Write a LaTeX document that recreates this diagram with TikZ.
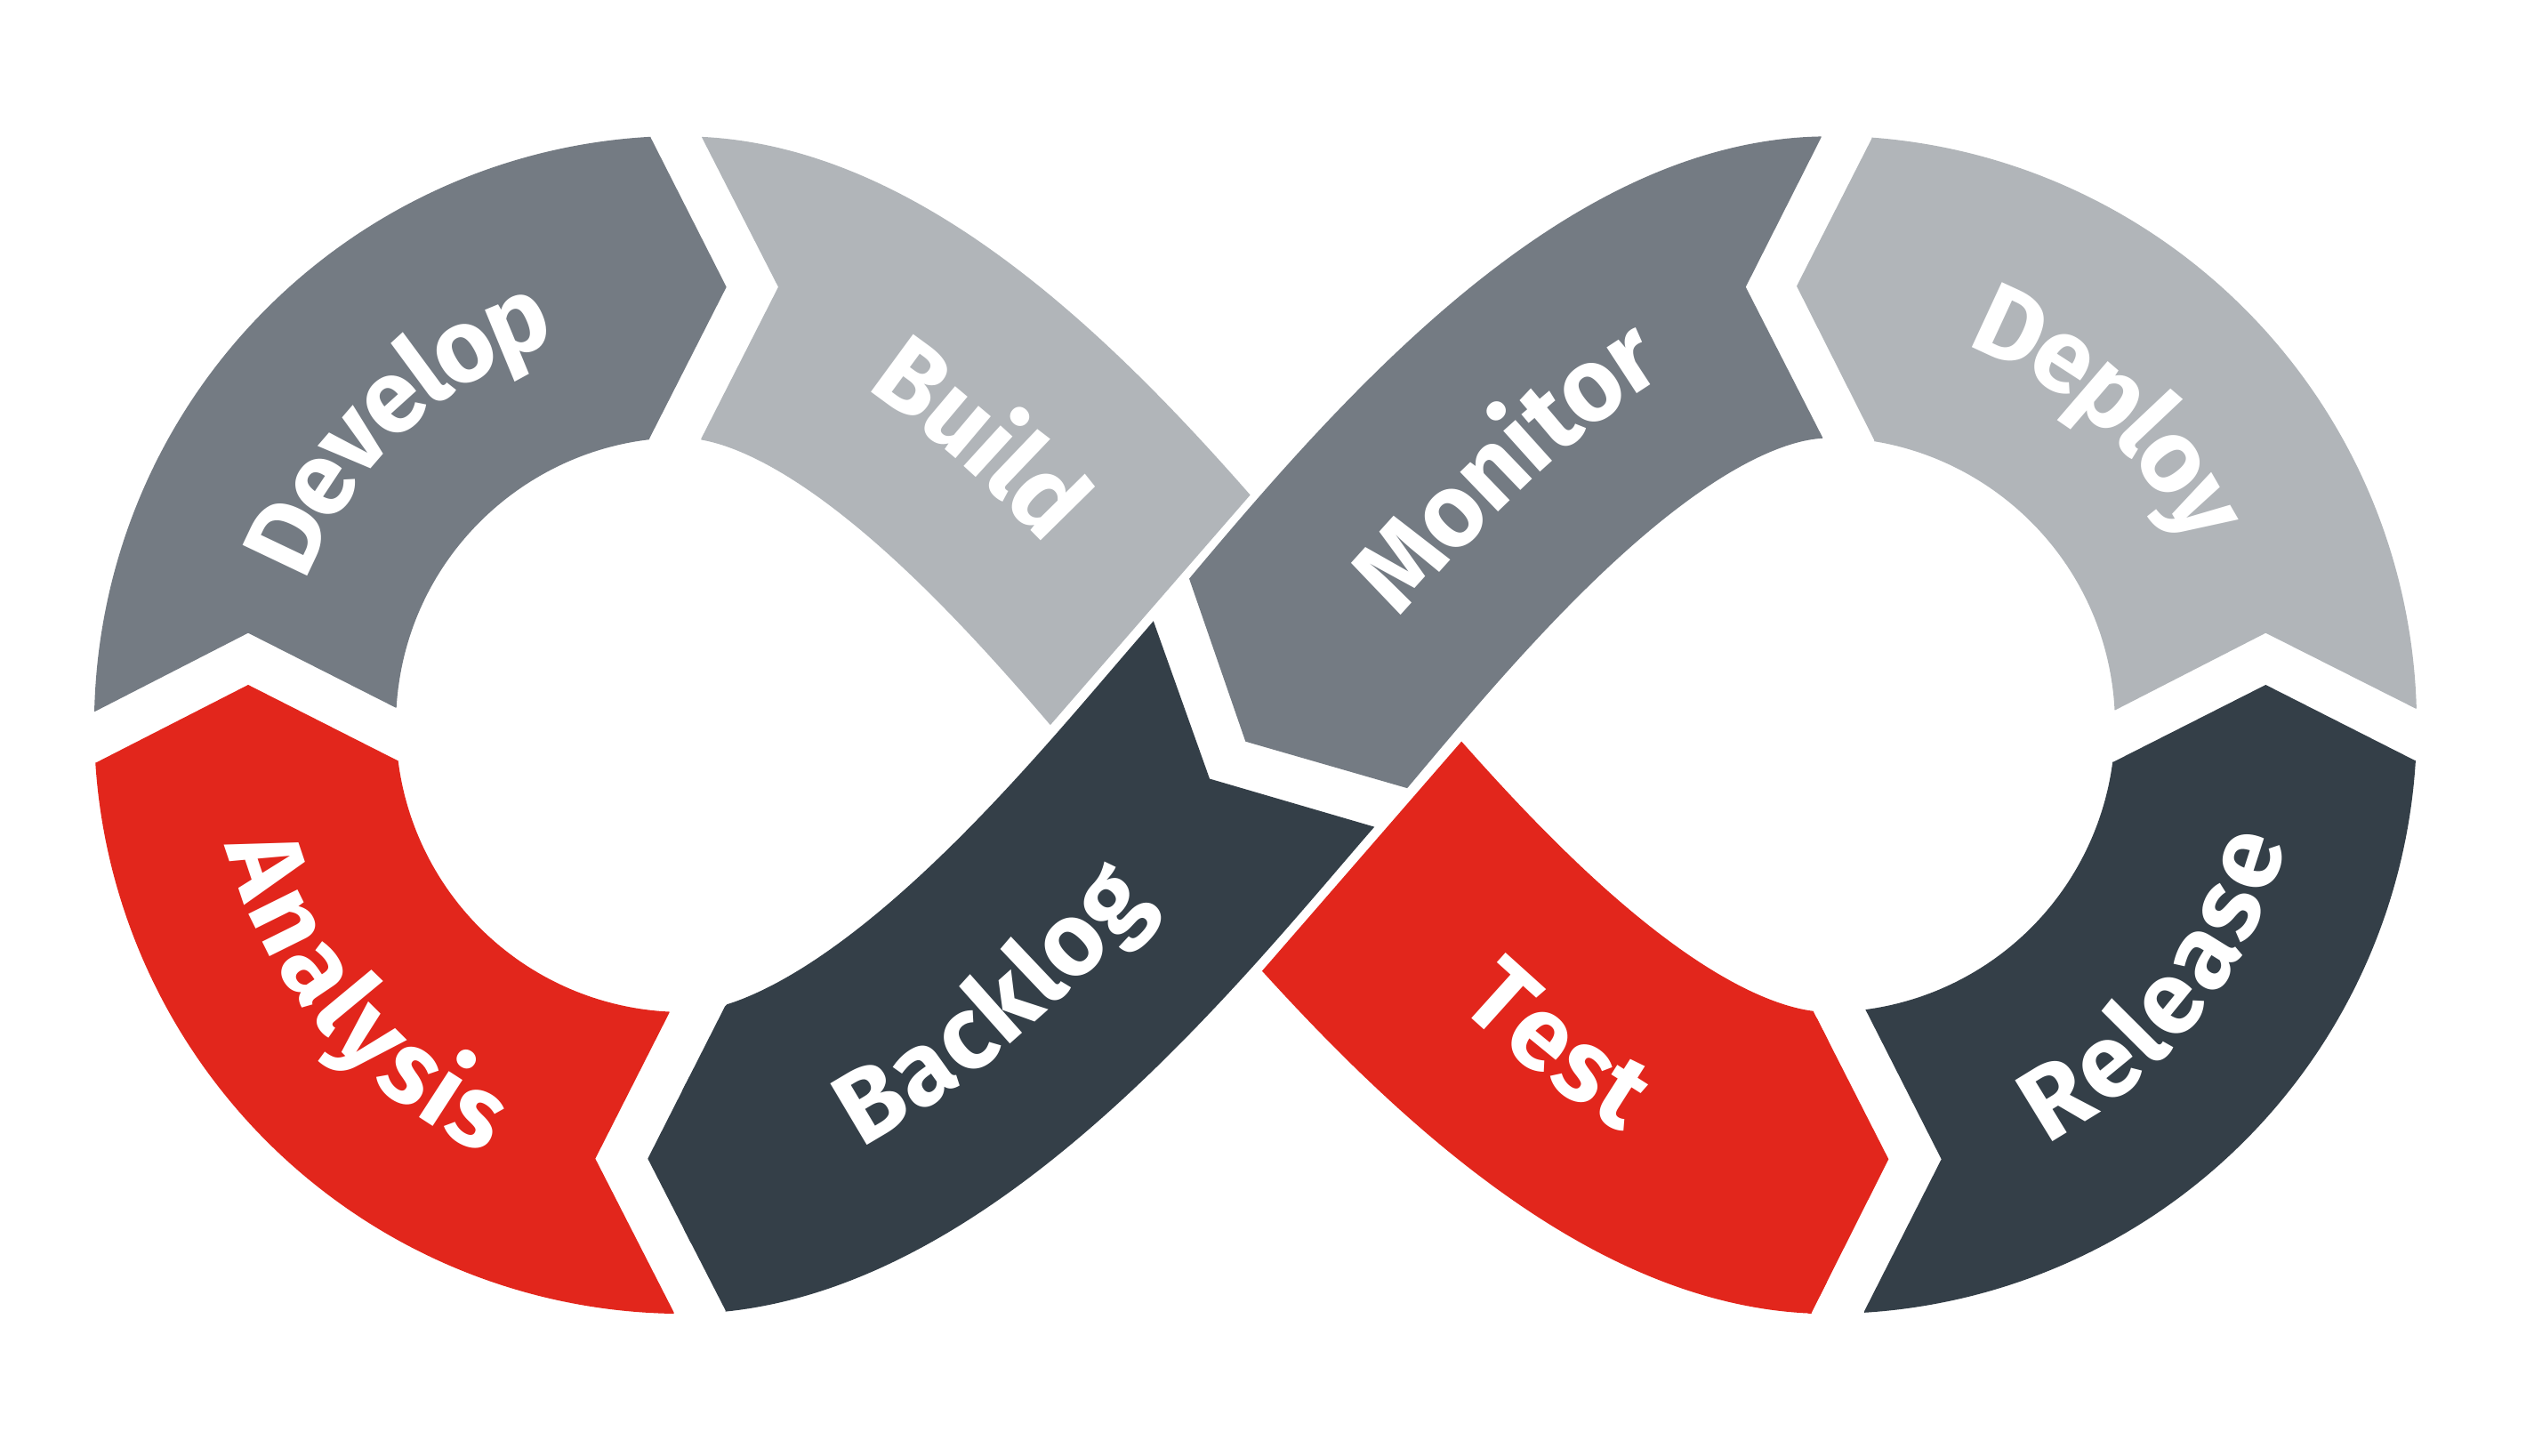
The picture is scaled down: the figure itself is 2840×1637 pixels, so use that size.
\documentclass[tikz,border=0pt]{standalone}
\usepackage{fontspec}
\newfontfamily\lblfont{Fira Sans}
\usetikzlibrary{decorations.text}

\definecolor{stepgray}{RGB}{116,123,131}
\definecolor{steplight}{RGB}{177,181,185}
\definecolor{stepred}{RGB}{226,38,28}
\definecolor{stepslate}{RGB}{52,63,72}

% centre lines of the loop (1 unit = 1 px, y up)
\newcommand\leftring{(768,822) ++(83:492.5) arc[start angle=83, end angle=271, radius=492.5]}
\newcommand\rightring{(2055,822) ++(97:492.5) arc[start angle=97, end angle=-92, radius=492.5]}
\newcommand\strandA{(768,1314) .. controls (1018,1314) and (1280.3,963) .. (1411.5,812) .. controls (1542.7,661) and (1805,329.5) .. (2055,329.5)}
\newcommand\strandB{(768,329.5) .. controls (1018,329.5) and (1280.3,661) .. (1411.5,812) .. controls (1542.7,963) and (1805,1314) .. (2055,1314)}

\tikzset{
  band/.style={line width=3.39cm},
  lbl/.style={decorate, decoration={text along path, text align=center,
      text color=white, raise=-0.39cm,
      text={|\lblfont\bfseries\fontsize{33}{33}\selectfont|#1}}}
}

\begin{document}
\begin{tikzpicture}[x=0.01cm, y=0.01cm]
    \useasboundingbox (0,0) rectangle (2840,1637);

    % left loop
    \begin{scope} % Develop
        \clip (768,822) -- (445,841.3) -- (279,925.3) -- (106.7,837) -- (-50,837) -- (-50,1700)
            -- (731.7,1700) -- (731.7,1482) -- (816.7,1314.3) -- (730,1143.7) -- cycle;
        \draw[band, stepgray] \leftring;
    \end{scope}
    \begin{scope} % Analysis
        \clip (768,822) -- (446.7,782) -- (279,867) -- (108.3,779.7) -- (-50,779.7) -- (-50,-60)
            -- (757.7,-60) -- (757.7,161.3) -- (669.3,334.3) -- (752.7,498.7) -- cycle;
        \draw[band, stepred] \leftring;
    \end{scope}
    \begin{scope} % Backlog
        \clip (815,505.3) -- (728.3,334.3) -- (815.7,163.7) -- (815.7,-60) -- (1700,-60) -- (1700,662.1)
            -- (1546.3,707) -- (1360,761.4) -- (1297.6,936.5) -- (1278.9,989) -- cycle;
        \draw[band, stepslate] \strandB;
        \draw[band, stepslate] \leftring;
    \end{scope}
    \begin{scope} % Build
        \clip (790,1700) -- (789,1482.7) -- (875,1314.3) -- (788.3,1143.7) -- (760,540)
            -- (947.2,552.9) -- (1905,1655.2) -- (1905,1700) -- cycle;
        \draw[band, steplight] \strandA;
    \end{scope}

    % right loop
    \begin{scope} % Test
        \clip (1219.8,316.1) -- (1875.8,1071.1) -- (2050,822) -- (2039,499.3) -- (2123.3,333.7)
            -- (2036.7,161.3) -- (2036.7,-60) -- (1219.8,-60) -- cycle;
        \draw[band, stepred] \strandA;
        \draw[band, stepred] \rightring;
    \end{scope}
    \begin{scope} % Release
        \clip (2055,822) -- (2376,780.3) -- (2547.3,867) -- (2715,782) -- (2900,782) -- (2900,-60)
            -- (2096,-60) -- (2096,162.7) -- (2182.7,333.7) -- (2097.3,502) -- cycle;
        \draw[band, stepslate] \rightring;
    \end{scope}
    \begin{scope} % Deploy
        \clip (2055,822) -- (2107.3,1142) -- (2020,1315.3) -- (2104.3,1481) -- (2104.3,1700) -- (2900,1700)
            -- (2900,840.3) -- (2716,840.3) -- (2547.3,925.3) -- (2378.3,838.7) -- cycle;
        \draw[band, steplight] \rightring;
    \end{scope}
    \begin{scope} % Monitor
        \clip (1319,1038.3) -- (1337.8,984.1) -- (1400.3,803.3) -- (1583.3,750.5) -- (1700,716.8)
            -- (2049,1000) -- (2049,1145.3) -- (1962.7,1314.3) -- (2047.7,1482.7) -- (2047.7,1700)
            -- (1300,1700) -- cycle;
        \draw[band, stepgray] \strandB;
    \end{scope}

    % labels
    \path[lbl=Develop] (768,822) ++(178:492.5) arc[start angle=178, end angle=89.4, radius=492.5];
    \path[lbl=Analysis] (768,822) ++(176:492.5) arc[start angle=176, end angle=264, radius=492.5];
    \path[lbl=Release] (2055,822) ++(-82:492.5) arc[start angle=-82, end angle=5.2, radius=492.5];
    \path[lbl=Deploy] (2055,822) ++(92:492.5) arc[start angle=92, end angle=4, radius=492.5];
    \path[lbl=Build] (880.8,1292.2) .. controls (1031.1,1236.5) and (1178.1,1084) .. (1290.8,954.1);
    \path[lbl=Monitor] (1478.9,891.6) .. controls (1596,1030.6) and (1766.9,1227.2) .. (1942.2,1292.2);
    \path[lbl=Backlog] (880.8,350.5) .. controls (1043.6,407.6) and (1202.5,572) .. (1318.1,703.8);
    \path[lbl=Test] (1561.2,641.2) .. controls (1679.4,513.3) and (1829.1,375.6) .. (1979.7,338.9);
\end{tikzpicture}
\end{document}
